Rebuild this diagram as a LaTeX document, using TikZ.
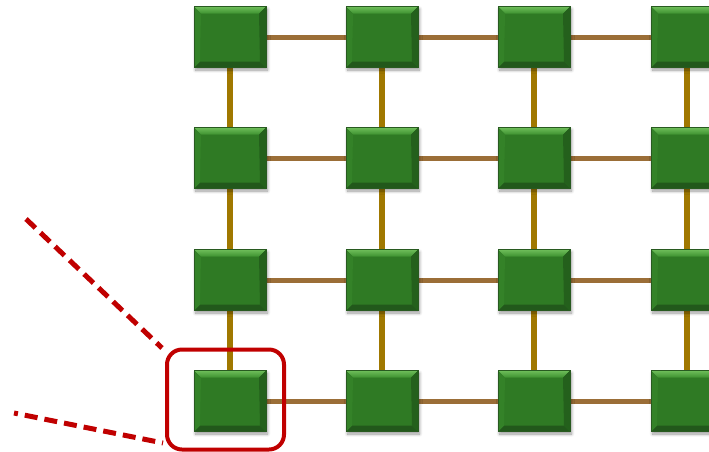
\documentclass[tikz,border=0pt]{standalone}
\usetikzlibrary{shadows.blur,backgrounds,calc}
\definecolor{gmid}{RGB}{47,122,36}
\definecolor{gtop}{RGB}{110,190,90}
\definecolor{gtop2}{RGB}{62,145,48}
\definecolor{gbot}{RGB}{34,88,27}
\definecolor{gleft}{RGB}{52,130,40}
\definecolor{gright}{RGB}{36,96,28}
\definecolor{gedge}{RGB}{40,90,32}
\definecolor{hlink}{RGB}{155,110,55}
\definecolor{vlink}{RGB}{160,120,0}
\definecolor{redc}{RGB}{192,0,0}
\tikzset{
  router/.style={rectangle, minimum width=72pt, minimum height=61pt, inner sep=0pt,
    fill=gmid, draw=gedge, line width=0.4pt,
    blur shadow={shadow xshift=1.5pt, shadow yshift=-2.5pt, shadow blur steps=8, shadow blur radius=3pt, shadow opacity=40},
    path picture={
      \coordinate (nw) at (path picture bounding box.north west);
      \coordinate (ne) at (path picture bounding box.north east);
      \coordinate (sw) at (path picture bounding box.south west);
      \coordinate (se) at (path picture bounding box.south east);
      \shade[top color=gtop, bottom color=gtop2] (nw) -- (ne) -- ($(ne)+(-7pt,-7pt)$) -- ($(nw)+(7pt,-7pt)$) -- cycle;
      \fill[gbot] (sw) -- (se) -- ($(se)+(-6pt,6pt)$) -- ($(sw)+(6pt,6pt)$) -- cycle;
      \fill[gleft] (nw) -- ($(nw)+(7pt,-7pt)$) -- ($(sw)+(6pt,6pt)$) -- (sw) -- cycle;
      \fill[gright] (ne) -- ($(ne)+(-7pt,-7pt)$) -- ($(se)+(-6pt,6pt)$) -- (se) -- cycle;
    }},
  hl/.style={draw=hlink, line width=5pt},
  vl/.style={draw=vlink, line width=5.5pt},
  dashline/.style={draw=redc, line width=5pt, dash pattern=on 13pt off 7pt},
  selbox/.style={rectangle, draw=redc, line width=4pt, rounded corners=15pt,
    minimum width=117pt, minimum height=100pt, inner sep=0pt}
}
\begin{document}
\begin{tikzpicture}[x=1pt,y=-1pt]
\useasboundingbox (0,0) rectangle (709,451);
\foreach \c/\x in {1/230,2/382,3/534,4/687}{
  \foreach \r/\y in {1/37,2/158,3/280,4/401}{
    \node[router] (n\r\c) at (\x,\y) {};
  }
}
\begin{scope}[on background layer]
  \foreach \r in {1,2,3,4}{
    \draw[hl] (n\r1.east) -- (n\r2.west);
    \draw[hl] (n\r2.east) -- (n\r3.west);
    \draw[hl] (n\r3.east) -- (n\r4.west);
  }
  \foreach \c in {1,2,3,4}{
    \draw[vl] (n1\c.south) -- (n2\c.north);
    \draw[vl] (n2\c.south) -- (n3\c.north);
    \draw[vl] (n3\c.south) -- (n4\c.north);
  }
\end{scope}
\node[selbox] (sel) at (225.5,399.5) {};
\coordinate (d1) at (26,219);
\coordinate (d1e) at (162,348);
\coordinate (d2) at (14,413);
\coordinate (d2e) at (163,443);
\draw[dashline] (d1) -- (d1e);
\draw[dashline, dash phase=9pt] (d2) -- (d2e);
\end{tikzpicture}
\end{document}
